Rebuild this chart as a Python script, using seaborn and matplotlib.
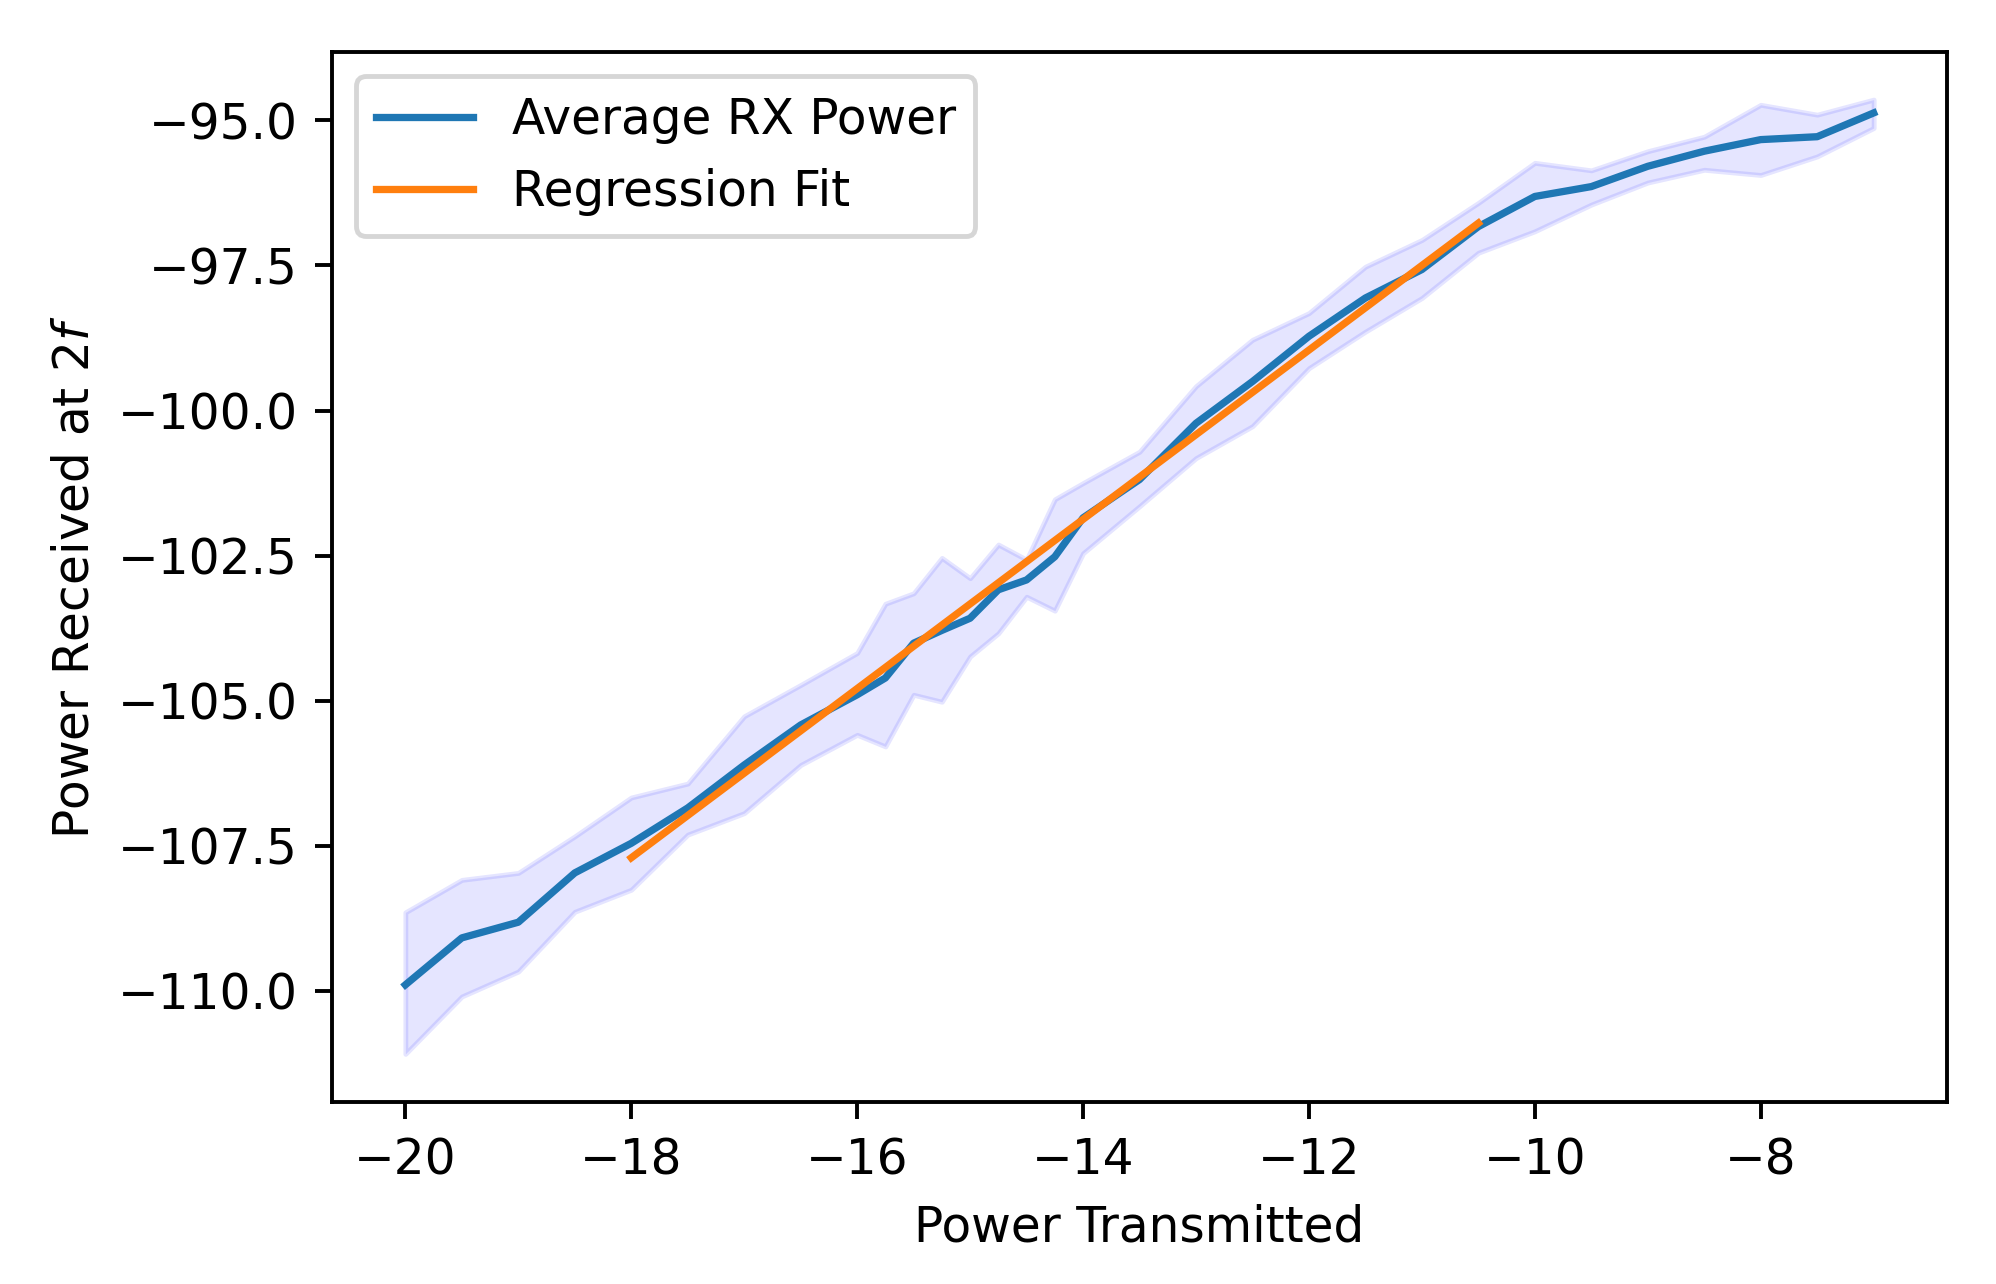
import matplotlib
matplotlib.use("Agg")
import matplotlib.pyplot as plt
import seaborn as sns
import numpy as np

# Data
power_tx = [-20, -19.5, -19, -18.5, -18, -17.5, -17, -16.5, -16, -15.75, -15.5, -15.25,
            -15, -14.75, -14.5, -14.25, -14, -13.5, -13, -12.5, -12, -11.5, -11, -10.5,
            -10, -9.5, -9, -8.5, -8, -7.5, -7]
avg_rx = [-109.90, -109.09, -108.82, -107.97, -107.46, -106.85, -106.11, -105.42, -104.90,
          -104.61, -104.01, -103.79, -103.58, -103.09, -102.92, -102.52, -101.85, -101.19,
          -100.22, -99.50, -98.72, -98.06, -97.57, -96.83, -96.31, -96.14, -95.79, -95.53,
          -95.33, -95.28, -94.87]
rx_upper = [-108.65, -108.09, -107.97, -107.34, -106.67, -106.43, -105.27, -104.73, -104.18,
            -103.33, -103.15, -102.54, -102.89, -102.31, -102.57, -101.53, -101.25, -100.71,
            -99.58, -98.78, -98.32, -97.52, -97.06, -96.42, -95.73, -95.86, -95.53, -95.28,
            -94.73, -94.90, -94.64]
rx_lower = [-111.09, -110.10, -109.67, -108.64, -108.26, -107.31, -106.94, -106.11, -105.59,
            -105.79, -104.90, -105.02, -104.24, -103.84, -103.21, -103.45, -102.46, -101.65,
            -100.82, -100.27, -99.27, -98.64, -98.06, -97.28, -96.91, -96.45, -96.07, -95.85,
            -95.94, -95.62, -95.13]
fit_x = [-18.0, -10.5]
fit_y = [-107.71, -96.77]

fig = plt.figure(figsize=(1996 / 350, 1284 / 350), dpi=350)
ax = fig.add_axes([0.1663, 0.1417, 0.9755 - 0.1663, 0.9595 - 0.1417])

ax.fill_between(power_tx, rx_lower, rx_upper, color="blue", alpha=0.1)
sns.lineplot(x=power_tx, y=avg_rx, ax=ax, color="#1f77b4", linewidth=1.5,
             label="Average RX Power", errorbar=None)
sns.lineplot(x=fit_x, y=fit_y, ax=ax, color="#ff7f0e", linewidth=1.5,
             label="Regression Fit", errorbar=None)

ax.set_xlabel("Power Transmitted")
ax.set_ylabel("Power Received at $2f$")
ax.set_xlim(-20.65, -6.35)
ax.set_ylim(-111.92, -93.82)
ax.set_xticks([-20, -18, -16, -14, -12, -10, -8])
ax.set_yticks([-95.0, -97.5, -100.0, -102.5, -105.0, -107.5, -110.0])
ax.yaxis.set_major_formatter(matplotlib.ticker.FormatStrFormatter("%.1f"))
ax.xaxis.set_major_formatter(matplotlib.ticker.FuncFormatter(lambda v, p: f"{int(v)}".replace("-", "\u2212")))
ax.yaxis.set_major_formatter(matplotlib.ticker.FuncFormatter(lambda v, p: f"{v:.1f}".replace("-", "\u2212")))
ax.legend(loc="upper left")

fig.savefig("out.png", dpi=350)
